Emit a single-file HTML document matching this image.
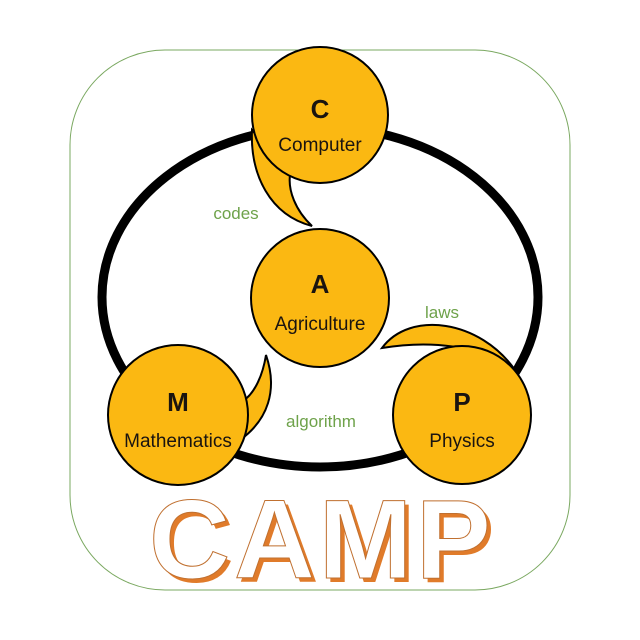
<!DOCTYPE html>
<html><head><style>body{margin:0;background:#fff}svg{display:block}</style></head><body>
<svg width="640" height="640" viewBox="0 0 640 640" xmlns="http://www.w3.org/2000/svg" font-family="Liberation Sans, DejaVu Sans, sans-serif">
<rect x="70" y="50" width="500" height="540" rx="95" fill="#fff" stroke="#7aa860" stroke-width="1"/>
<ellipse cx="320" cy="297" rx="218" ry="170" fill="none" stroke="#000" stroke-width="9"/>
<g fill="#fbb812" stroke="#000" stroke-width="2">
<path d="M252,130 C250,175 270,215 312,226 C295,210 288,190 290,175 Z"/>
<path d="M240,440 C268,420 278,390 266,355 C262,380 252,395 244,400 Z"/>
<path d="M382,348 C410,310 480,320 515,370 C480,345 430,340 382,348 Z"/>
<circle cx="320" cy="115" r="68"/>
<circle cx="320" cy="298" r="69"/>
<circle cx="178" cy="415" r="70"/>
<circle cx="462" cy="415" r="69"/>
</g>
<g fill="#1a1410" text-anchor="middle">
<text x="320" y="118" font-size="26" font-weight="bold">C</text>
<text x="320" y="151" font-size="19">Computer</text>
<text x="320" y="293" font-size="26" font-weight="bold">A</text>
<text x="320" y="330" font-size="19">Agriculture</text>
<text x="178" y="411" font-size="26" font-weight="bold">M</text>
<text x="178" y="447" font-size="19">Mathematics</text>
<text x="462" y="411" font-size="26" font-weight="bold">P</text>
<text x="462" y="447" font-size="19">Physics</text>
</g>
<g fill="#6ea24a" font-size="17" text-anchor="middle">
<text x="236" y="219">codes</text>
<text x="442" y="318">laws</text>
<text x="321" y="427">algorithm</text>
</g>
<text x="326" y="582" font-size="112" font-weight="bold" text-anchor="middle" fill="#e07b2a" letter-spacing="4">CAMP</text>
<text x="322" y="578" font-size="112" font-weight="bold" text-anchor="middle" fill="#fff" stroke="#c07030" stroke-width="1" letter-spacing="4">CAMP</text>
</svg>
</body></html>
